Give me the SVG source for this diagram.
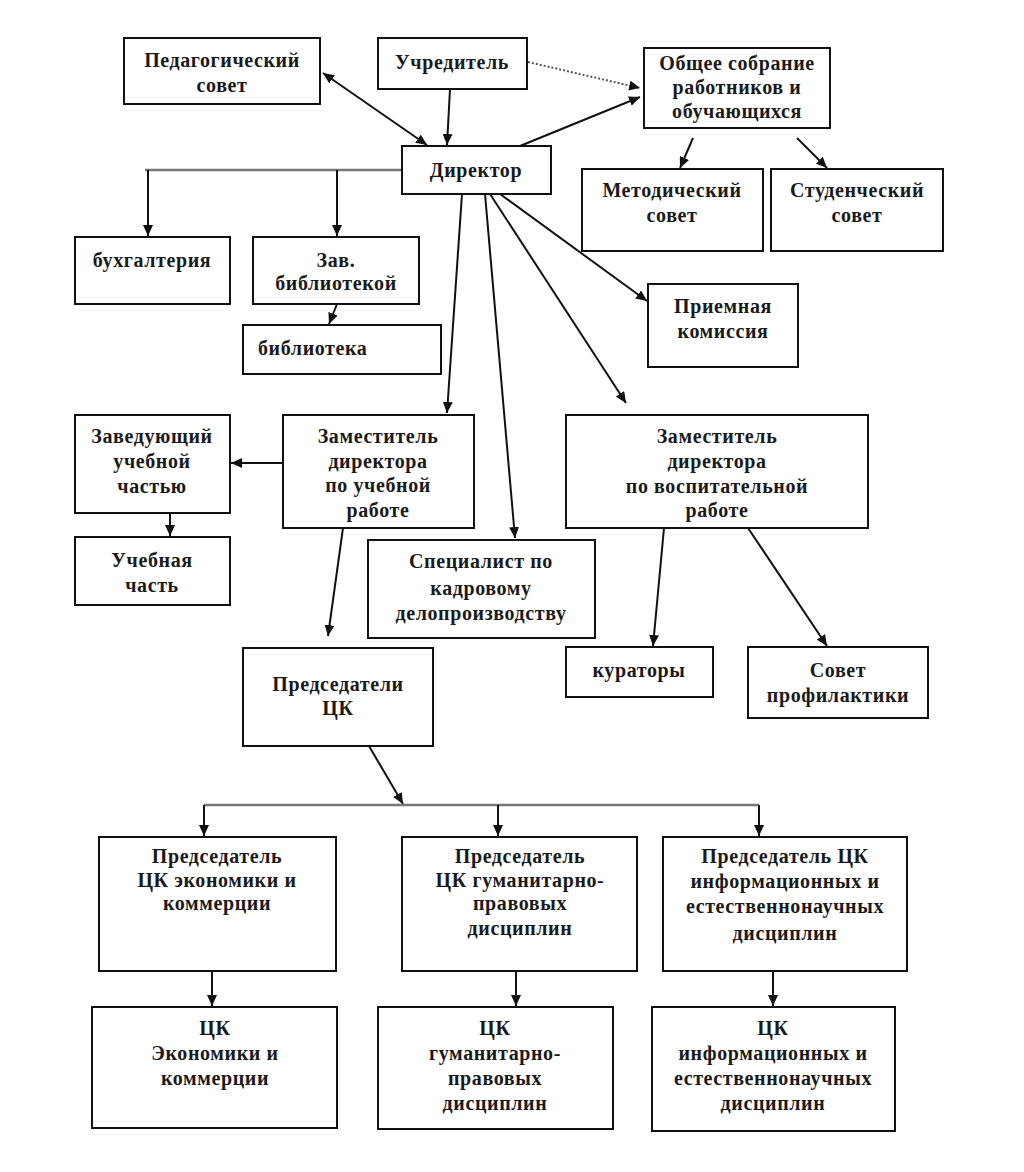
<svg xmlns="http://www.w3.org/2000/svg" width="1024" height="1172" viewBox="0 0 1024 1172">
<style>
.box{fill:#fff;stroke:#111;stroke-width:2}
.t{font-family:"Liberation Serif","Times New Roman",serif;font-weight:bold;font-size:20px;letter-spacing:0.6px;text-anchor:middle;fill:#1a1a1a}
.c{fill:none;stroke:#111;stroke-width:2}
.g{fill:none;stroke:#777;stroke-width:2.5}
.d{fill:none;stroke:#555;stroke-width:2;stroke-dasharray:2 2}
</style>
<defs>
<marker id="ar" markerUnits="userSpaceOnUse" markerWidth="12" markerHeight="10" refX="11" refY="5" orient="auto-start-reverse">
<path d="M0,0 L11,5 L0,10 z" fill="#111"/>
</marker>
</defs>
<rect width="1024" height="1172" fill="#fff"/>
<g id="connectors">
<line class="c" x1="323" y1="73" x2="427" y2="145" marker-start="url(#ar)" marker-end="url(#ar)"/>
<line class="c" x1="450" y1="89" x2="447" y2="145" marker-end="url(#ar)"/>
<line class="d" x1="528" y1="62" x2="640" y2="88" marker-end="url(#ar)"/>
<line class="c" x1="520" y1="146" x2="640" y2="97" marker-end="url(#ar)"/>
<line class="c" x1="693" y1="138" x2="680" y2="168" marker-end="url(#ar)"/>
<line class="c" x1="797" y1="138" x2="827" y2="168" marker-end="url(#ar)"/>
<polyline class="g" points="402,170 145,170"/>
<line class="c" x1="148" y1="170" x2="148" y2="236" marker-end="url(#ar)"/>
<line class="c" x1="337" y1="170" x2="337" y2="236" marker-end="url(#ar)"/>
<line class="c" x1="337" y1="304" x2="329" y2="324" marker-end="url(#ar)"/>
<line class="c" x1="462" y1="194" x2="447" y2="413" marker-end="url(#ar)"/>
<line class="c" x1="485" y1="194" x2="515" y2="538" marker-end="url(#ar)"/>
<line class="c" x1="490" y1="194" x2="626" y2="403" marker-end="url(#ar)"/>
<line class="c" x1="500" y1="194" x2="647" y2="301" marker-end="url(#ar)"/>
<line class="c" x1="283" y1="463" x2="231" y2="463" marker-end="url(#ar)"/>
<line class="c" x1="170" y1="513" x2="170" y2="536" marker-end="url(#ar)"/>
<line class="c" x1="343" y1="528" x2="328" y2="636" marker-end="url(#ar)"/>
<line class="c" x1="664" y1="528" x2="653" y2="646" marker-end="url(#ar)"/>
<line class="c" x1="748" y1="528" x2="827" y2="646" marker-end="url(#ar)"/>
<line class="c" x1="369" y1="746" x2="403" y2="804" marker-end="url(#ar)"/>
<polyline class="g" points="204,805 759,805"/>
<line class="c" x1="204" y1="805" x2="204" y2="836" marker-end="url(#ar)"/>
<line class="c" x1="498" y1="805" x2="498" y2="836" marker-end="url(#ar)"/>
<line class="c" x1="759" y1="805" x2="759" y2="836" marker-end="url(#ar)"/>
<line class="c" x1="212" y1="971" x2="212" y2="1006" marker-end="url(#ar)"/>
<line class="c" x1="516" y1="971" x2="516" y2="1006" marker-end="url(#ar)"/>
<line class="c" x1="773" y1="971" x2="773" y2="1006" marker-end="url(#ar)"/>
</g>
<g id="ped-sovet"><rect class="box" x="124" y="38" width="196" height="66"/><text class="t" x="222" y="67">Педагогический</text><text class="t" x="222" y="92">совет</text></g>
<g id="uchreditel"><rect class="box" x="378" y="38" width="149" height="51"/><text class="t" x="452" y="69">Учредитель</text></g>
<g id="obshchee"><rect class="box" x="644" y="48" width="186" height="80"/><text class="t" x="737" y="70">Общее собрание</text><text class="t" x="737" y="94">работников и</text><text class="t" x="737" y="118">обучающихся</text></g>
<g id="direktor"><rect class="box" x="402" y="146" width="149" height="48"/><text class="t" x="476" y="177">Директор</text></g>
<g id="metod"><rect class="box" x="582" y="169" width="181" height="82"/><text class="t" x="672" y="197">Методический</text><text class="t" x="672" y="222">совет</text></g>
<g id="student"><rect class="box" x="771" y="169" width="172" height="82"/><text class="t" x="857" y="197">Студенческий</text><text class="t" x="857" y="222">совет</text></g>
<g id="buh"><rect class="box" x="75" y="237" width="155" height="67"/><text class="t" x="152" y="267">бухгалтерия</text></g>
<g id="zav-bibl"><rect class="box" x="253" y="237" width="166" height="67"/><text class="t" x="336" y="267">Зав.</text><text class="t" x="336" y="290">библиотекой</text></g>
<g id="bibl"><rect class="box" x="243" y="325" width="198" height="49"/><text class="t" x="258" y="355" style="text-anchor:start">библиотека</text></g>
<g id="priem"><rect class="box" x="648" y="284" width="150" height="83"/><text class="t" x="723" y="313">Приемная</text><text class="t" x="723" y="338">комиссия</text></g>
<g id="zav-uch"><rect class="box" x="75" y="415" width="155" height="98"/><text class="t" x="152" y="443">Заведующий</text><text class="t" x="152" y="468">учебной</text><text class="t" x="152" y="493">частью</text></g>
<g id="zam-ur"><rect class="box" x="283" y="415" width="191" height="113"/><text class="t" x="378" y="443">Заместитель</text><text class="t" x="378" y="468">директора</text><text class="t" x="378" y="492">по учебной</text><text class="t" x="378" y="517">работе</text></g>
<g id="uch-chast"><rect class="box" x="75" y="537" width="155" height="68"/><text class="t" x="152" y="567">Учебная</text><text class="t" x="152" y="592">часть</text></g>
<g id="zam-vr"><rect class="box" x="566" y="415" width="302" height="113"/><text class="t" x="717" y="443">Заместитель</text><text class="t" x="717" y="468">директора</text><text class="t" x="717" y="493">по воспитательной</text><text class="t" x="717" y="517">работе</text></g>
<g id="specialist"><rect class="box" x="368" y="540" width="227" height="98"/><text class="t" x="481" y="568">Специалист по</text><text class="t" x="481" y="595">кадровому</text><text class="t" x="481" y="620">делопроизводству</text></g>
<g id="kuratory"><rect class="box" x="566" y="647" width="147" height="50"/><text class="t" x="639" y="677">кураторы</text></g>
<g id="sovet-prof"><rect class="box" x="748" y="647" width="180" height="71"/><text class="t" x="838" y="677">Совет</text><text class="t" x="838" y="702">профилактики</text></g>
<g id="predsedateli"><rect class="box" x="243" y="648" width="190" height="98"/><text class="t" x="338" y="691">Председатели</text><text class="t" x="338" y="715">ЦК</text></g>
<g id="pred-ekon"><rect class="box" x="99" y="837" width="237" height="134"/><text class="t" x="217" y="863">Председатель</text><text class="t" x="217" y="887">ЦК экономики и</text><text class="t" x="217" y="910">коммерции</text></g>
<g id="pred-gum"><rect class="box" x="402" y="837" width="235" height="134"/><text class="t" x="520" y="863">Председатель</text><text class="t" x="520" y="887">ЦК гуманитарно-</text><text class="t" x="520" y="910">правовых</text><text class="t" x="520" y="935">дисциплин</text></g>
<g id="pred-inf"><rect class="box" x="663" y="837" width="244" height="134"/><text class="t" x="785" y="863">Председатель ЦК</text><text class="t" x="785" y="888">информационных и</text><text class="t" x="785" y="913">естественнонаучных</text><text class="t" x="785" y="940">дисциплин</text></g>
<g id="ck-ekon"><rect class="box" x="92" y="1007" width="245" height="121"/><text class="t" x="215" y="1035">ЦК</text><text class="t" x="215" y="1060">Экономики и</text><text class="t" x="215" y="1085">коммерции</text></g>
<g id="ck-gum"><rect class="box" x="378" y="1007" width="235" height="122"/><text class="t" x="495" y="1035">ЦК</text><text class="t" x="495" y="1060">гуманитарно-</text><text class="t" x="495" y="1085">правовых</text><text class="t" x="495" y="1110">дисциплин</text></g>
<g id="ck-inf"><rect class="box" x="652" y="1007" width="243" height="124"/><text class="t" x="773" y="1035">ЦК</text><text class="t" x="773" y="1060">информационных и</text><text class="t" x="773" y="1085">естественнонаучных</text><text class="t" x="773" y="1110">дисциплин</text></g>
</svg>
